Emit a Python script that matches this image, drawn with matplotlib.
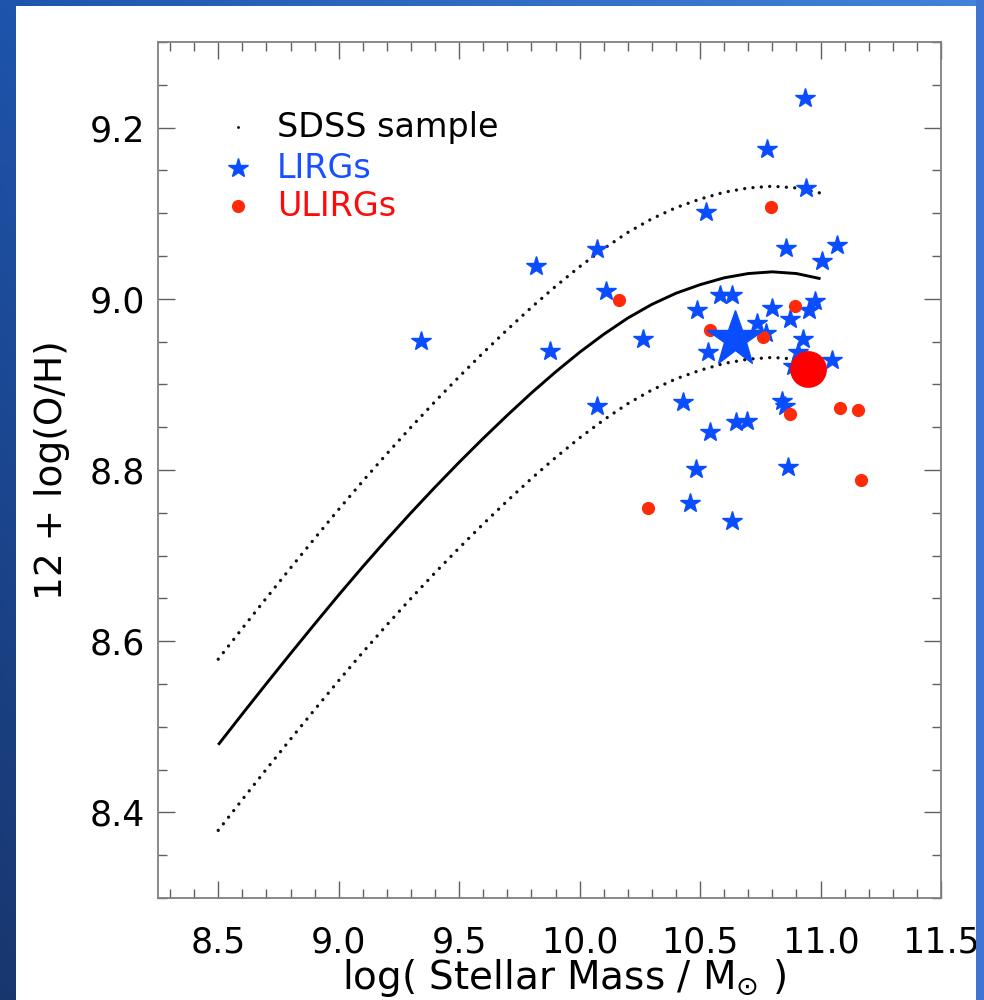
import numpy as np
import matplotlib
matplotlib.use("Agg")
import matplotlib.pyplot as plt
from matplotlib.patches import Rectangle
from matplotlib.ticker import MultipleLocator, FormatStrFormatter

plt.rcParams['font.family'] = ['DejaVu Sans']

# ---- data ----
fit_mass = [8.5, 8.6, 8.7, 8.8, 8.9, 9.0, 9.1, 9.2, 9.3, 9.4, 9.5, 9.6, 9.7,
            9.8, 9.9, 10.0, 10.1, 10.2, 10.3, 10.4, 10.5, 10.6, 10.7, 10.8,
            10.9, 11.0]
fit_oh = [8.479, 8.515, 8.5505, 8.5855, 8.620, 8.654, 8.687, 8.719, 8.750,
          8.780, 8.809, 8.837, 8.864, 8.890, 8.9145, 8.9375, 8.9585, 8.9775,
          8.9935, 9.0065, 9.0165, 9.0245, 9.0295, 9.0315, 9.0295, 9.0235]
fit_scatter = 0.1

lirg_mass = [10.936, 10.776, 10.938, 10.524, 10.072, 10.855, 11.070, 11.005,
             9.817, 10.108, 10.584, 10.631, 10.488, 10.798, 10.977, 10.953,
             10.873, 10.263, 9.341, 9.878, 10.735, 10.774, 10.928, 10.533,
             10.906, 11.047, 10.886, 10.072, 10.429, 10.839, 10.853, 10.540,
             10.651, 10.694, 10.485, 10.866, 10.457, 10.631]
lirg_oh = [9.234, 9.175, 9.130, 9.101, 9.058, 9.059, 9.063, 9.044, 9.038,
           9.009, 9.004, 9.005, 8.987, 8.989, 8.997, 8.987, 8.976, 8.953,
           8.951, 8.939, 8.972, 8.960, 8.953, 8.938, 8.938, 8.928, 8.921,
           8.875, 8.879, 8.881, 8.875, 8.844, 8.856, 8.857, 8.801, 8.803,
           8.761, 8.741]

ulirg_mass = [10.163, 10.540, 10.760, 10.793, 10.894, 10.873, 11.081, 11.157,
              11.168, 10.284]
ulirg_oh = [8.999, 8.964, 8.955, 9.107, 8.992, 8.865, 8.872, 8.870, 8.788,
            8.756]

lirg_mean = (10.646, 8.953)
ulirg_mean = (10.949, 8.918)

legend_labels = ['SDSS sample', 'LIRGs', 'ULIRGs']

BLUE = '#0a4dff'
RED = '#ff2a0a'

# ---- figure ----
W, H = 984, 1000
fig = plt.figure(figsize=(W / 100, H / 100), dpi=100)

# gradient background frame
bg = fig.add_axes([0, 0, 1, 1], zorder=-5)
bg.set_axis_off()
tl = np.array([30, 84, 172]) / 255
tr = np.array([66, 132, 218]) / 255
bl = np.array([24, 54, 110]) / 255
br = np.array([50, 105, 205]) / 255
u = np.linspace(0, 1, 200)[None, :, None]
v = np.linspace(0, 1, 200)[:, None, None]
grad = (1 - v) * ((1 - u) * tl + u * tr) + v * ((1 - u) * bl + u * br)
bg.imshow(grad, extent=[0, 1, 0, 1], aspect='auto', origin='upper')
bg.add_patch(Rectangle((16 / W, 0), (976 - 16) / W, (1000 - 6) / H,
                       facecolor='white', edgecolor='none'))
bg.set_xlim(0, 1)
bg.set_ylim(0, 1)

ax = fig.add_axes([158 / W, 1 - 898 / H, (941 - 158) / W, (898 - 42) / H])
ax.set_xlim(8.25, 11.5)
ax.set_ylim(8.3, 9.3)

# fit curves
fm = np.array(fit_mass)
fo = np.array(fit_oh)
dotted = (0, (0.01, 2.5))
ax.plot(fm, fo, color='black', lw=2.1, solid_capstyle='butt',
        solid_joinstyle='round', zorder=2)
ax.plot(fm, fo + fit_scatter, color='#111111', lw=2.4, linestyle=dotted,
        dash_capstyle='round', zorder=2)
ax.plot(fm, fo - fit_scatter, color='#111111', lw=2.4, linestyle=dotted,
        dash_capstyle='round', zorder=2)

# points
ax.plot(lirg_mass, lirg_oh, linestyle='none', marker='*', ms=15,
        color=BLUE, mec=BLUE, mew=1.0, zorder=3)
ax.plot(ulirg_mass, ulirg_oh, linestyle='none', marker='o', ms=9.5,
        color=RED, mec='none', zorder=4)
ax.plot([lirg_mean[0]], [lirg_mean[1]], linestyle='none', marker='*',
        ms=42, color=BLUE, mec=BLUE, mew=1.0, zorder=5)
ax.plot([ulirg_mean[0]], [ulirg_mean[1]], linestyle='none', marker='o',
        ms=26.5, color='#ff0000', mec='none', zorder=6)

# legend (manual)
def ax_xy(px, py):
    return (px - 158) / (941 - 158), (898 - py) / (898 - 42)

leg_marker_px = 238
leg_rows = [127, 168, 206]
mk = [dict(marker='.', ms=2, color='black'),
      dict(marker='*', ms=15, color=BLUE, mec=BLUE, mew=1.0),
      dict(marker='o', ms=9.5, color=RED, mec='none')]
txt_colors = ['black', '#1650ff', '#ff0a0a']
for lab, row, m, c in zip(legend_labels, leg_rows, mk, txt_colors):
    mx, my = ax_xy(leg_marker_px, row)
    ax.plot([mx], [my], transform=ax.transAxes, linestyle='none', **m)
    tx, ty = ax_xy(277, row)
    ax.text(tx, ty, lab, transform=ax.transAxes, color=c, fontsize=24,
            ha='left', va='center')

# axes styling
for s in ax.spines.values():
    s.set_color('#808080')
    s.set_linewidth(1.3)
ax.xaxis.set_major_locator(MultipleLocator(0.5))
ax.xaxis.set_minor_locator(MultipleLocator(0.1))
ax.yaxis.set_major_locator(MultipleLocator(0.2))
ax.yaxis.set_minor_locator(MultipleLocator(0.05))
ax.xaxis.set_major_formatter(FormatStrFormatter('%.1f'))
ax.yaxis.set_major_formatter(FormatStrFormatter('%.1f'))
ax.tick_params(which='both', direction='in', top=True, right=True,
               color='#606060', width=1.0, labelsize=25, labelcolor='black')
ax.tick_params(which='major', length=12)
ax.tick_params(which='minor', length=6.5)
ax.tick_params(axis='x', which='major', pad=20)
ax.tick_params(axis='y', which='major', pad=9)

ax.set_xlabel(r'log( Stellar Mass / M$_{\odot}$ )', fontsize=28)
ax.set_ylabel('12 + log(O/H)', fontsize=27)
ax.xaxis.set_label_coords(0.518, -0.069)
ax.yaxis.set_label_coords(-0.113, 0.5)

# right frame strip on top (clips the last tick label like the original)
fig.add_artist(Rectangle((976 / W, 0), 8 / W, 1, transform=fig.transFigure,
                         facecolor='#3f74d2', edgecolor='none', zorder=20))

fig.savefig('out.png', dpi=100)
